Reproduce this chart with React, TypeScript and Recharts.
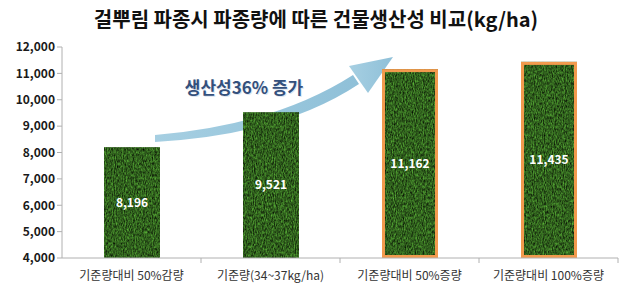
import { Bar, BarChart, LabelList, XAxis, YAxis, Customized } from "recharts";

const categories = ["기준량대비 50%감량", "기준량(34~37kg/ha)", "기준량대비 50%증량", "기준량대비 100%증량"];
const yields = [8196, 9521, 11162, 11435];
const highlighted = [false, false, true, true];
const yTicks = [4000, 5000, 6000, 7000, 8000, 9000, 10000, 11000, 12000];

const data = categories.map((name, i) => ({ name, value: yields[i], hl: highlighted[i] }));

const FONT = "'Noto Sans CJK KR', 'Noto Sans', sans-serif";
const PLOT_W = 556;
const BAND = PLOT_W / categories.length;

function GrassBar(props: any) {
  const { x, y, width, height, payload } = props;
  return (
    <g>
      <rect x={x} y={y} width={width} height={height} fill="#335f22" />
      <rect x={x} y={y} width={width} height={height} filter="url(#grass)" />
      {payload.hl && (
        <rect x={x + 1.5} y={y + 1.5} width={width - 3} height={height - 3} fill="none" stroke="#f29a4e" strokeWidth={3} />
      )}
    </g>
  );
}

function XTick(props: any) {
  const { x, y, payload } = props;
  return (
    <g>
      <line x1={x + BAND / 2} y1={y - 8} x2={x + BAND / 2} y2={y - 3} stroke="#b0b0b0" />
      <text x={x} y={y + 14} textAnchor="middle" fontSize={12} fill="#333" fontFamily={FONT}>
        {payload.value}
      </text>
    </g>
  );
}

function Arrow() {
  return (
    <g>
      <defs>
        <linearGradient id="arrowGrad" x1="0" y1="0" x2="1" y2="0">
          <stop offset="0%" stopColor="#a6cfe2" />
          <stop offset="100%" stopColor="#8fc0d8" />
        </linearGradient>
      </defs>
      <path d="M155,135 Q275,125 353,75 L359,84 Q282,135 155,142 Z" fill="url(#arrowGrad)" />
      <path d="M349,66 L393,57 L368,93 Z" fill="url(#arrowGrad)" />
      <text x={245} y={95} textAnchor="middle" fontSize={17} fontWeight={700} fill="#dde6f0" fontFamily={FONT}>
        생산성36% 증가
      </text>
      <text x={244} y={94} textAnchor="middle" fontSize={17} fontWeight={700} fill="#34507c" fontFamily={FONT}>
        생산성36% 증가
      </text>
    </g>
  );
}

export default function App() {
  return (
    <div style={{ position: "absolute", left: 0, top: 0, width: 624, height: 290, background: "#fff" }}>
      <div
        style={{
          position: "absolute",
          top: 4,
          left: 0,
          width: 632,
          textAlign: "center",
          fontFamily: FONT,
          fontWeight: 700,
          fontSize: 20,
          color: "#111",
        }}
      >
        걸뿌림 파종시 파종량에 따른 건물생산성 비교(kg/ha)
      </div>
      <svg width={0} height={0} style={{ position: "absolute" }}>
        <defs>
          <filter id="grass" x="0" y="0" width="100%" height="100%" colorInterpolationFilters="sRGB">
            <feTurbulence type="fractalNoise" baseFrequency="0.9 0.35" numOctaves={3} seed={4} result="n" />
            <feColorMatrix
              in="n"
              type="matrix"
              values="0.4 0 0 0 -0.01  0.8 0 0 0 -0.02  0.25 0 0 0 -0.01  0 0 0 0 1"
            />
            <feComposite in2="SourceGraphic" operator="in" />
          </filter>
        </defs>
      </svg>
      <BarChart
        width={624}
        height={290}
        data={data}
        margin={{ top: 47, right: 6, bottom: 0, left: 0 }}
        barCategoryGap={0}
      >
        <YAxis
          width={62}
          domain={[4000, 12000]}
          ticks={yTicks}
          allowDataOverflow
          tickFormatter={(v: number) => v.toLocaleString("en-US")}
          stroke="#b0b0b0"
          tickSize={5}
          tick={{ fill: "#1a1a1a", fontSize: 12, fontWeight: 600, fontFamily: FONT }}
        />
        <XAxis
          dataKey="name"
          height={32}
          stroke="#b0b0b0"
          tickLine={false}
          interval={0}
          tick={<XTick />}
        />
        <Bar dataKey="value" barSize={56} shape={<GrassBar />} isAnimationActive={false}>
          <LabelList
            dataKey="value"
            position="center"
            formatter={(v: any) => Number(v).toLocaleString("en-US")}
            fill="#ffffff"
            fontSize={12}
            fontWeight={600}
            fontFamily={FONT}
          />
        </Bar>
        <Customized component={<Arrow />} />
      </BarChart>
    </div>
  );
}
